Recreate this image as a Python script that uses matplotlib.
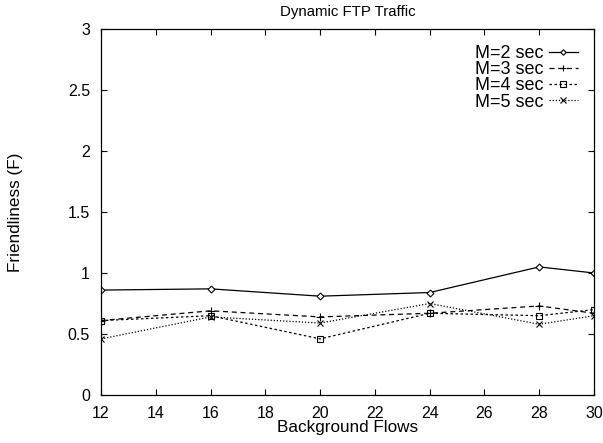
import numpy as np
import matplotlib
matplotlib.use("Agg")
import matplotlib.pyplot as plt

plt.rcParams['font.family'] = ['Liberation Sans', 'DejaVu Sans']

flows = [12, 16, 20, 24, 28, 30]
m2 = [0.86, 0.87, 0.81, 0.84, 1.05, 1.00]
m3 = [0.61, 0.69, 0.64, 0.67, 0.73, 0.67]
m4 = [0.61, 0.65, 0.46, 0.67, 0.65, 0.70]
m5 = [0.46, 0.64, 0.59, 0.75, 0.58, 0.65]

fig = plt.figure(figsize=(6.03, 4.43), dpi=100)
ax = fig.add_axes([101/603, 48/443, 493/603, 366/443])

ax.plot(flows, m2, color='black', lw=0.9, ls='-', marker='D', ms=3.5, mfc='white', mew=0.8, label='M=2 sec')
ax.plot(flows, m3, color='black', lw=0.9, ls=(0, (4, 3)), marker='+', ms=6, mew=0.8, label='M=3 sec')
ax.plot(flows, m4, color='black', lw=0.9, ls=(0, (2, 2)), marker='s', ms=5, mfc='none', mew=0.8, label='M=4 sec')
ax.plot(flows, m5, color='black', lw=0.9, ls=(0, (1, 1.5)), marker='x', ms=5, mew=0.8, label='M=5 sec')

ax.set_xlim(12, 30)
ax.set_ylim(0, 3)
ax.set_xticks(np.arange(12, 31, 2))
ax.set_yticks([0, 0.5, 1, 1.5, 2, 2.5, 3])
ax.set_yticklabels(['0', '0.5', '1', '1.5', '2', '2.5', '3'])
ax.tick_params(direction='in', top=True, right=True, length=4, labelsize=11.5, pad=8)
for s in ax.spines.values():
    s.set_linewidth(0.9)

ax.set_title('Dynamic FTP Traffic', fontsize=10.8, pad=9)
ax.set_xlabel('Background Flows', fontsize=12.3, labelpad=-1)
ax.set_ylabel('Friendliness (F)', fontsize=12.3)
ax.yaxis.set_label_coords(-0.158, 0.5)

ax.legend(loc='upper right', frameon=False, markerfirst=False, fontsize=13,
          handlelength=1.6, labelspacing=-0.05, handletextpad=0.3,
          borderaxespad=0.45, borderpad=0.45, markerscale=0.8)

fig.savefig('out.png', dpi=100)
